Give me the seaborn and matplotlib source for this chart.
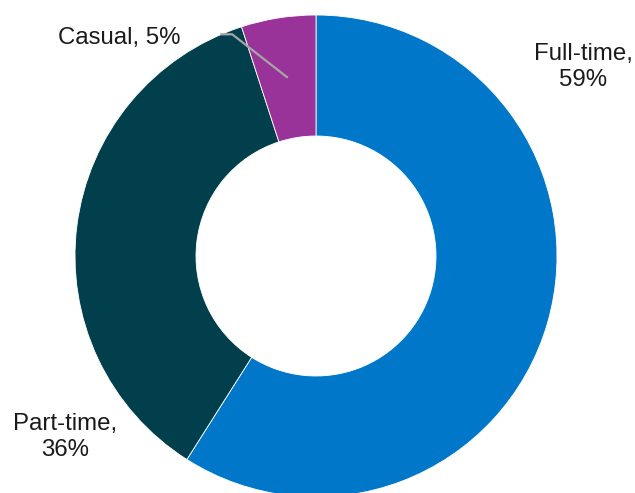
import numpy as np
import matplotlib
matplotlib.use("Agg")
import matplotlib.pyplot as plt
import seaborn as sns

# Employment type breakdown
categories = ["Full-time", "Part-time", "Casual"]
shares = [59, 36, 5]
colors = ["#0077C8", "#023F4C", "#993399"]

sns.set_theme(style="white")
plt.rcParams["font.family"] = ["Liberation Sans", "DejaVu Sans"]

W, H = 635, 493
fig = plt.figure(figsize=(W / 100, H / 100), dpi=100)
ax = fig.add_axes([0, 0, 1, 1])

cx, cy = 316, H - 256
R_out, ring = 241, 121

wedges, _ = ax.pie(
    shares,
    colors=colors,
    startangle=90,
    counterclock=False,
    radius=R_out,
    center=(cx, cy),
    wedgeprops=dict(width=ring, edgecolor="white", linewidth=0.6),
    frame=True,
)
ax.set_xlim(0, W)
ax.set_ylim(0, H)
ax.set_aspect("equal")
ax.axis("off")

fs = 17.3
labels = [f"{c},\n{v}%" for c, v in zip(categories, shares)]

# Full-time label, right of the ring
ax.text(583, H - 67, labels[0], ha="center", va="center", fontsize=fs,
        color="#1a1a1a", linespacing=1.2)
# Part-time label, lower left
ax.text(65, H - 437, labels[1], ha="center", va="center", fontsize=fs,
        color="#1a1a1a", linespacing=1.2)

# Casual label with a leader line into the middle of its wedge
w = wedges[2]
mid = np.deg2rad((w.theta1 + w.theta2) / 2)
r_mid = R_out - ring / 2
p_end = (cx + r_mid * np.cos(mid), cy + r_mid * np.sin(mid))
p_elbow = (cx + (R_out - 4) * np.cos(np.deg2rad(110.7)),
           cy + (R_out - 4) * np.sin(np.deg2rad(110.7)))
p_start = (p_elbow[0] - 12, p_elbow[1])
ax.plot([p_start[0], p_elbow[0], p_end[0]], [p_start[1], p_elbow[1], p_end[1]],
        color="#A6A6A6", lw=1.6, solid_capstyle="butt")
ax.text(p_start[0] - 40, p_start[1] - 4, f"{categories[2]}, {shares[2]}%",
        ha="right", va="center", fontsize=fs, color="#1a1a1a")

fig.savefig("out.png", dpi=100, facecolor="white")
